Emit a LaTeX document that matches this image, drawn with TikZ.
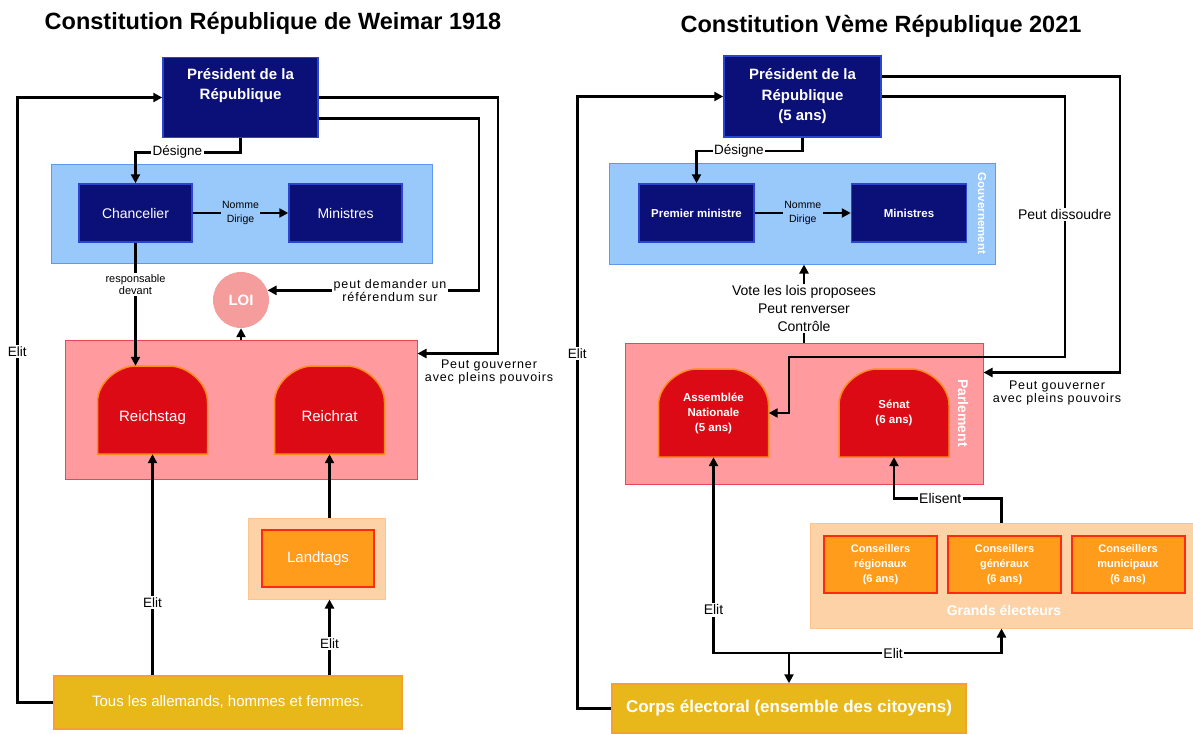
\documentclass[tikz,border=0pt]{standalone}
\usepackage{fontspec}
\setmainfont{Liberation Sans}
\usetikzlibrary{arrows.meta,calc}

\definecolor{navy}{HTML}{0B1078}
\definecolor{navyedge}{HTML}{2A45D0}
\definecolor{govfill}{HTML}{99C9FA}
\definecolor{govedge}{HTML}{5F98EE}
\definecolor{parlfill}{HTML}{FF9A9E}
\definecolor{parledge}{HTML}{EE4455}
\definecolor{domefill}{HTML}{DC0A14}
\definecolor{domeedge}{HTML}{FF8C1A}
\definecolor{loifill}{HTML}{F59C9C}
\definecolor{peach}{HTML}{FDD2A6}
\definecolor{peachedge}{HTML}{FFC48A}
\definecolor{ornfill}{HTML}{FF9C1C}
\definecolor{rededge}{HTML}{FF2A10}
\definecolor{gold}{HTML}{E8B81A}
\definecolor{goldedge}{HTML}{F5A030}

% dome: [label style] name, centre x, centre y, text
\newcommand{\dome}[5][]{%
  \filldraw[domeshape] ({#3-55},{#4+44}) -- ({#3-55},{#4-8})
    .. controls ({#3-55},{#4-28}) and ({#3-34},{#4-44}) .. ({#3-17},{#4-44})
    -- ({#3+17},{#4-44})
    .. controls ({#3+34},{#4-44}) and ({#3+55},{#4-28}) .. ({#3+55},{#4-8})
    -- ({#3+55},{#4+44}) -- cycle;
  \node[domelabel,#1] (#2) at (#3,#4) {#5};}

\begin{document}
\begin{tikzpicture}[x=1pt,y=-1pt,
    every node/.style={align=center,inner sep=0pt},
    arr/.style={-{Triangle[length=9pt,width=9pt]},line width=2.5pt},
    lbl/.style={fill=white,inner sep=1.5pt,font=\fontsize{13.5}{16}\selectfont},
    title/.style={font=\fontsize{23.5}{26}\selectfont\bfseries},
    pres/.style={fill=navy,draw=navyedge,line width=1.5pt,text=white,
      minimum width=155,minimum height=80,font=\fontsize{15}{20.5}\selectfont\bfseries},
    navybox/.style={fill=navy,draw=navyedge,line width=1.5pt,text=white,
      minimum width=113,minimum height=58},
    gouvbox/.style={fill=govfill,draw=govedge,line width=1pt},
    parlbox/.style={fill=parlfill,draw=parledge,line width=1pt},
    domeshape/.style={fill=domefill,draw=domeedge,line width=1.5pt},
    domelabel/.style={minimum width=110,minimum height=88,text=white,
      font=\fontsize{15}{17}\selectfont},
    loi/.style={circle,fill=loifill,minimum size=56,text=white,
      font=\fontsize{15}{18}\selectfont\bfseries},
    peachbox/.style={fill=peach,draw=peachedge,line width=1pt},
    ornbox/.style={fill=ornfill,draw=rededge,line width=2pt,text=white},
    goldbox/.style={fill=gold,draw=goldedge,line width=1.5pt,text=white},
    sidelbl/.style={text=white,rotate=-90,font=\bfseries},
    spaced/.style={font=\fontsize{12.5}{13.5}\selectfont\addfontfeatures{LetterSpace=7}}]
  \useasboundingbox (0,0) rectangle (1193,733);

  \node[title] (t1) at (273,23) {Constitution République de Weimar 1918};
  \node[title] (t2) at (881,26) {Constitution Vème République 2021};

  % Weimar
  \node[gouvbox,minimum width=381,minimum height=99] (gouv1) at (241.5,213.5) {};
  \node[pres] (pres1) at (240.5,97.5) {Président de la\\République\\\strut};
  \node[navybox,font=\fontsize{14}{16}\selectfont] (chan) at (135.5,213) {Chancelier};
  \node[navybox,font=\fontsize{14}{16}\selectfont] (min1) at (345.5,213) {Ministres};
  \node[parlbox,minimum width=352,minimum height=139] (parl1) at (241,409.5) {};
  \dome[text height=26pt,text depth=3pt]{rstag}{152.5}{410}{Reichstag}
  \dome[text height=26pt,text depth=3pt]{rrat}{329.5}{410}{Reichrat}
  \node[loi] (loi) at (241,300) {LOI};
  \node[peachbox,minimum width=137,minimum height=81] (lt) at (316.5,558.5) {};
  \node[ornbox,minimum width=112,minimum height=57,font=\fontsize{15}{17}\selectfont] (ltin) at (318,558.5) {Landtags};
  \node[goldbox,minimum width=348,minimum height=53,font=\fontsize{15}{18}\selectfont] (tous) at (228,702.5) {Tous les allemands, hommes et femmes.};
  \node[spaced] (gouvtxt1) at (489,372) {Peut gouverner\\avec pleins pouvoirs};

  \draw[arr] (tous.west) -- ++(-36,0) |- node[pos=0.29,lbl]{Elit} (pres1.west);
  \draw[arr] (pres1.south) -- ++(0,14) -| node[pos=0.3,lbl]{Désigne} (chan.north);
  \draw[arr] (chan) -- node[lbl,fill=govfill,font=\fontsize{10.5}{14}\selectfont]{Nomme\\Dirige} (min1);
  \draw[arr] (chan.south) -- node[pos=0.34,lbl,font=\fontsize{11}{12}\selectfont]{responsable\\devant} (chan.south |- rstag.north);
  \draw[arr] (parl1.north) -- (loi.south);
  \draw[arr] ($(pres1.east)+(0,21)$) -- ++(160,0) |- node[pos=0.71,lbl,spaced]{peut demander un\\référendum sur} (loi.20);
  \draw[arr] (pres1.east) -- ++(179,0) |- ($(parl1.north east)+(0,14)$);
  \draw[arr] (tous.north -| rstag.south) -- node[pos=0.33,lbl]{Elit} (rstag.south);
  \draw[arr] (rrat.south |- lt.north) -- (rrat.south);
  \draw[arr] (tous.north -| rrat.south) -- node[pos=0.42,lbl]{Elit} (rrat.south |- lt.south);

  % Veme Republique
  \node[gouvbox,minimum width=386,minimum height=101] (gouv2) at (802,213.5) {};
  \node[sidelbl,font=\fontsize{11.5}{13}\selectfont\bfseries] (gouvlbl) at (982,213.5) {Gouvernement};
  \node[pres,minimum width=157,minimum height=81] (pres2) at (802.5,96.5) {Président de la\\République\\(5 ans)};
  \node[navybox,minimum width=115,font=\fontsize{11.5}{14}\selectfont\bfseries] (pm) at (696.5,213) {Premier ministre};
  \node[navybox,minimum width=115,font=\fontsize{11.5}{14}\selectfont\bfseries] (min2) at (909,213) {Ministres};
  \node[parlbox,minimum width=358,minimum height=141] (parl2) at (804,413.5) {};
  \node[sidelbl,font=\fontsize{14}{16}\selectfont\bfseries] (parllbl) at (963,413) {Parlement};
  \dome[font=\fontsize{11.5}{15}\selectfont\bfseries]{an}{713.5}{413}{Assemblée\\Nationale\\(5 ans)}
  \dome[font=\fontsize{11.5}{15}\selectfont\bfseries]{senat}{894}{413}{Sénat\\(6 ans)}
  \node[peachbox,minimum width=383,minimum height=105] (ge) at (1001.5,575.5) {};
  \node[ornbox,minimum width=113,minimum height=57,font=\fontsize{11}{15}\selectfont\bfseries] (creg) at (880.5,564.5) {Conseillers\\régionaux\\(6 ans)};
  \node[ornbox,minimum width=113,minimum height=57,font=\fontsize{11}{15}\selectfont\bfseries] (cgen) at (1004.5,564.5) {Conseillers\\généraux\\(6 ans)};
  \node[ornbox,minimum width=113,minimum height=57,font=\fontsize{11}{15}\selectfont\bfseries] (cmun) at (1128,564.5) {Conseillers\\municipaux\\(6 ans)};
  \node[text=white,font=\fontsize{14}{16}\selectfont\bfseries] (gelbl) at (1004,610) {Grands électeurs};
  \node[goldbox,minimum width=354,minimum height=49,font=\fontsize{17}{20}\selectfont\bfseries] (corps) at (789,708.5) {Corps électoral (ensemble des citoyens)};
  \node[spaced] (gouvtxt2) at (1057,393) {Peut gouverner\\avec pleins pouvoirs};
  \coordinate (dissbend) at (789,357);
  \coordinate (elitj) at (789,653);

  \draw[arr] (corps.west) -- ++(-34,0) |- node[pos=0.29,lbl]{Elit} (pres2.west);
  \draw[arr] (pres2.south) -- ++(0,13) -| node[pos=0.3,lbl]{Désigne} (pm.north);
  \draw[arr] (pm) -- node[lbl,fill=govfill,font=\fontsize{10.5}{14}\selectfont]{Nomme\\Dirige} (min2);
  \draw[arr] ($(pres2.east)+(0,-20)$) -- ++(238,0) |- ($(parl2.north east)+(0,30)$);
  \draw[arr] (pres2.east) -- ++(183,0) |- node[pos=0.226,lbl,font=\fontsize{14}{16}\selectfont]{Peut dissoudre} (dissbend) |- (an.east);
  \draw[arr] (parl2.north) -- node[pos=0.44,lbl,font=\fontsize{14}{18}\selectfont]{Vote les lois proposees\\Peut renverser\\Contrôle} (parl2.north |- gouv2.south);
  \draw[arr] (ge.north) -- ++(0,-24) -| node[pos=0.285,lbl,font=\fontsize{14}{16}\selectfont]{Elisent} (senat.south);
  \draw[arr] (elitj) -- (corps.north);
  \draw[arr] (elitj) -| node[pos=0.245,lbl,font=\fontsize{14}{16}\selectfont]{Elit} (ge.south);
  \draw[arr] (elitj) -| node[pos=0.61,lbl,font=\fontsize{14}{16}\selectfont]{Elit} (an.south);
\end{tikzpicture}
\end{document}
